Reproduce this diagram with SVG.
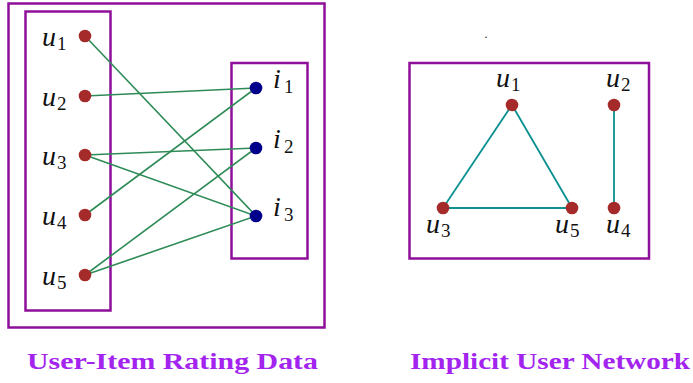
<svg xmlns="http://www.w3.org/2000/svg" width="693" height="383" viewBox="0 0 693 383">
<style>
.box{fill:none;stroke:#8e0f99;stroke-width:2.5}
.e1{stroke:#2e8b57;stroke-width:1.6;fill:none}
.e2{stroke:#0a9090;stroke-width:1.8;fill:none}
.u{fill:#a52a2a}
.i{fill:#00008b}
.lb{font-family:"Liberation Serif",serif;font-style:italic;font-size:28px;fill:#111}
.sb{font-family:"Liberation Serif",serif;font-size:19px;fill:#111}
.title{font-family:"Liberation Serif",serif;font-weight:bold;font-size:23px;fill:#a323ef}
</style>
<rect width="693" height="383" fill="#fff"/>
<g id="panel-left">
<rect class="box" x="8.5" y="3.5" width="316" height="324"/>
<rect class="box" x="25.5" y="11.5" width="85" height="299"/>
<rect class="box" x="231.5" y="63" width="76" height="195.5"/>
</g>
<g id="panel-right">
<rect class="box" x="409.5" y="63" width="239.5" height="195.5"/>
</g>
<g id="connectors">
<line class="e1" x1="85" y1="36" x2="256" y2="216"/>
<line class="e1" x1="85" y1="96" x2="256" y2="88"/>
<line class="e1" x1="85" y1="155" x2="256" y2="148"/>
<line class="e1" x1="85" y1="155" x2="256" y2="216"/>
<line class="e1" x1="85" y1="215" x2="256" y2="88"/>
<line class="e1" x1="85" y1="275" x2="256" y2="148"/>
<line class="e1" x1="85" y1="275" x2="256" y2="216"/>
<line class="e2" x1="512" y1="105" x2="443" y2="208"/>
<line class="e2" x1="512" y1="105" x2="572" y2="208"/>
<line class="e2" x1="443" y1="208" x2="572" y2="208"/>
<line class="e2" x1="614" y1="105" x2="614" y2="208"/>
</g>
<g id="u1"><circle class="u" cx="85" cy="36" r="6.3"/><text class="lb" x="42" y="46">u</text><text class="sb" x="57" y="50">1</text></g>
<g id="u2"><circle class="u" cx="85" cy="96" r="6.3"/><text class="lb" x="42" y="106">u</text><text class="sb" x="57" y="110">2</text></g>
<g id="u3"><circle class="u" cx="85" cy="155" r="6.3"/><text class="lb" x="42" y="165">u</text><text class="sb" x="57" y="169">3</text></g>
<g id="u4"><circle class="u" cx="85" cy="215" r="6.3"/><text class="lb" x="42" y="225">u</text><text class="sb" x="57" y="229">4</text></g>
<g id="u5"><circle class="u" cx="85" cy="275" r="6.3"/><text class="lb" x="42" y="285">u</text><text class="sb" x="57" y="289">5</text></g>
<g id="i1"><circle class="i" cx="256" cy="88" r="6.3"/><text class="lb" x="273" y="88">i</text><text class="sb" x="284" y="93">1</text></g>
<g id="i2"><circle class="i" cx="256" cy="148" r="6.3"/><text class="lb" x="273" y="148">i</text><text class="sb" x="284" y="153">2</text></g>
<g id="i3"><circle class="i" cx="256" cy="216" r="6.3"/><text class="lb" x="273" y="216">i</text><text class="sb" x="284" y="221">3</text></g>
<g id="n-u1"><circle class="u" cx="512" cy="105" r="6.3"/><text class="lb" x="496" y="87">u</text><text class="sb" x="511" y="91">1</text></g>
<g id="n-u2"><circle class="u" cx="614" cy="105" r="6.3"/><text class="lb" x="606" y="87">u</text><text class="sb" x="621" y="91">2</text></g>
<g id="n-u3"><circle class="u" cx="443" cy="208" r="6.3"/><text class="lb" x="426" y="233">u</text><text class="sb" x="441" y="237">3</text></g>
<g id="n-u5"><circle class="u" cx="572" cy="208" r="6.3"/><text class="lb" x="555" y="233">u</text><text class="sb" x="570" y="237">5</text></g>
<g id="n-u4"><circle class="u" cx="614" cy="208" r="6.3"/><text class="lb" x="606" y="233">u</text><text class="sb" x="621" y="237">4</text></g>
<text x="484.5" y="38" style="font-family:'Liberation Serif',serif;font-size:12px;fill:#111">.</text>
<text class="title" x="27" y="369" textLength="291" lengthAdjust="spacingAndGlyphs">User-Item Rating Data</text>
<text class="title" x="410" y="369" textLength="280" lengthAdjust="spacingAndGlyphs">Implicit User Network</text>
</svg>
